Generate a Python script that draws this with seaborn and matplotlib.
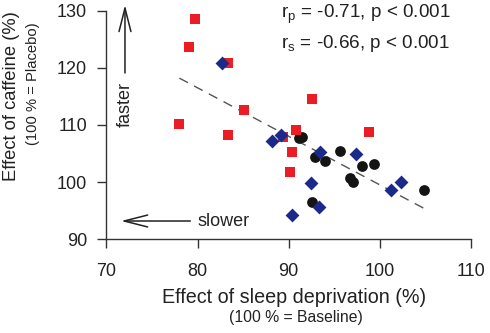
import numpy as np
import pandas as pd
import matplotlib
matplotlib.use('Agg')
import matplotlib.pyplot as plt
import seaborn as sns

sns.set_style('ticks')
plt.rcParams['font.family'] = ['Liberation Sans', 'DejaVu Sans']

# Datos (efecto privacion de sueno vs efecto cafeina)
negro_x = [91.1, 91.5, 92.9, 94.0, 95.6, 98.0, 99.4, 96.7, 97.0, 104.8, 92.6]
negro_y = [107.7, 107.9, 104.4, 103.7, 105.5, 102.9, 103.2, 100.8, 100.1, 98.7, 96.5]

rojo_x = [79.7, 79.1, 83.3, 78.0, 85.1, 83.3, 92.6, 90.8, 98.8, 90.4, 89.4, 90.1]
rojo_y = [128.5, 123.6, 120.9, 110.2, 112.6, 108.3, 114.6, 109.2, 108.8, 105.3, 107.9, 101.7]

azul_x = [82.7, 88.2, 89.2, 93.4, 97.4, 92.4, 93.3, 90.4, 101.2, 102.3]
azul_y = [120.8, 107.2, 108.3, 105.2, 104.9, 99.8, 95.7, 94.3, 98.6, 100.1]

textos = ['r$_\\mathregular{p}$ = -0.71, p < 0.001', 'r$_\\mathregular{s}$ = -0.66, p < 0.001']

df = pd.concat([
    pd.DataFrame({'x': negro_x, 'y': negro_y, 'grupo': 'negro'}),
    pd.DataFrame({'x': rojo_x, 'y': rojo_y, 'grupo': 'rojo'}),
    pd.DataFrame({'x': azul_x, 'y': azul_y, 'grupo': 'azul'}),
], ignore_index=True)

fig = plt.figure(figsize=(4.9, 3.33), dpi=100)
ax = fig.add_axes([0.2173, 0.2814, 0.7439, 0.6865])

# Recta de regresion (todos los puntos)
sns.regplot(data=df, x='x', y='y', ax=ax, scatter=False, ci=None, truncate=True,
            line_kws={'color': '#555555', 'lw': 1.0, 'ls': (0, (7, 5))})

# Puntos, uno por grupo para controlar forma y tamano
colores = {'negro': '#141414', 'rojo': '#ec1c24', 'azul': '#1b2a8a'}
marcas = {'negro': 'o', 'rojo': 's', 'azul': 'D'}
tamanos = {'negro': 60, 'rojo': 50, 'azul': 50}
for g in ['negro', 'rojo', 'azul']:
    sns.scatterplot(data=df[df['grupo'] == g], x='x', y='y', ax=ax, color=colores[g],
                    marker=marcas[g], s=tamanos[g], linewidth=0, legend=False,
                    clip_on=False, zorder=3)

ax.set_xlim(70, 110)
ax.set_ylim(90, 130)
ax.set_xticks([70, 80, 90, 100, 110])
ax.set_yticks([90, 100, 110, 120, 130])
ax.set_xlabel('')
ax.set_ylabel('')
sns.despine(ax=ax)
for s in ['left', 'bottom']:
    ax.spines[s].set_color('#333333')
    ax.spines[s].set_linewidth(1.0)
ax.tick_params(axis='both', length=6.5, width=1.0, color='#333333', labelsize=13,
               labelcolor='#222222', direction='out')
ax.tick_params(axis='x', pad=10.5)
ax.tick_params(axis='y', pad=7.5)

# Textos de correlacion
ax.text(89.2, 128.8, textos[0], fontsize=13.6, color='#222222', va='baseline', ha='left')
ax.text(89.2, 123.4, textos[1], fontsize=13.6, color='#222222', va='baseline', ha='left')

# Flechas faster / slower
flecha = dict(arrowstyle='->,head_length=1.3,head_width=0.33', mutation_scale=13,
              color='#222222', lw=1.1, shrinkA=0, shrinkB=0)
ax.annotate('', xy=(72.03, 131.0), xytext=(72.03, 119.1), arrowprops=flecha,
            annotation_clip=False)
ax.text(72.03, 113.65, 'faster', rotation=90, fontsize=13, color='#222222',
        ha='center', va='center')
ax.annotate('', xy=(71.6, 93.2), xytext=(79.2, 93.2), arrowprops=flecha,
            annotation_clip=False)
ax.text(80.04, 93.1, 'slower', fontsize=13, color='#222222', ha='left', va='center')

# Etiquetas de ejes
fig.text(293.7 / 490, 1 - 297.5 / 333, 'Effect of sleep deprivation (%)', fontsize=14.2,
         color='#222222', ha='center', va='center')
fig.text(295.5 / 490, 1 - 317.5 / 333, '(100 % = Baseline)', fontsize=11.3,
         color='#222222', ha='center', va='center')
fig.text(12 / 490, 1 - 96.5 / 333, 'Effect of caffeine (%)', fontsize=13.2, rotation=90,
         color='#222222', ha='center', va='center')
fig.text(33 / 490, 1 - 84 / 333, '(100 % = Placebo)', fontsize=10.6, rotation=90,
         color='#222222', ha='center', va='center')

fig.savefig('out.png', dpi=100)
